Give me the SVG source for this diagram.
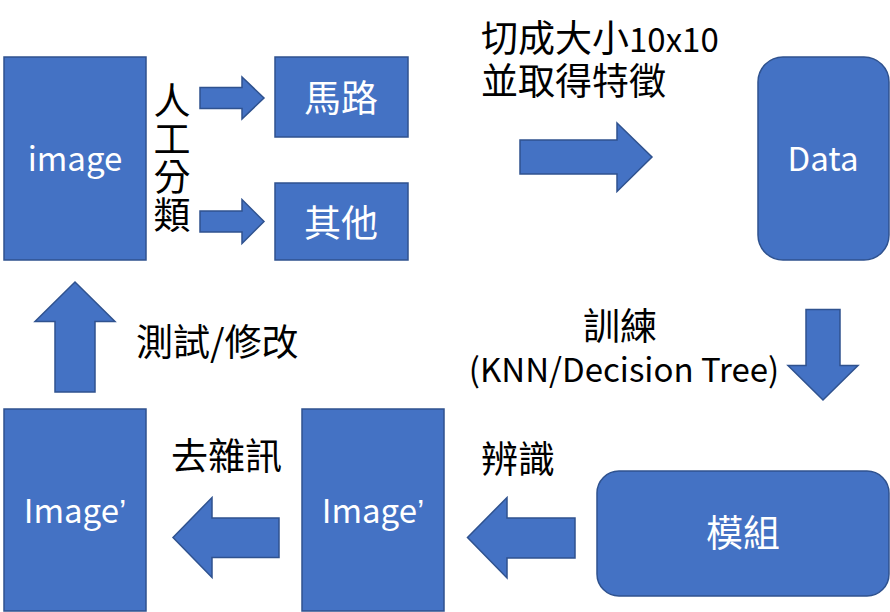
<svg xmlns="http://www.w3.org/2000/svg" width="890" height="612" viewBox="0 0 890 612">
<style>
.box{fill:#4472C4;stroke:#2F528F;stroke-width:1.5}
.arr{fill:#4472C4;stroke:#2F528F;stroke-width:1.5;stroke-linejoin:miter}
.wt{fill:#fff;font-family:"Noto Sans CJK TC","Noto Sans",sans-serif;font-size:37px;text-anchor:middle}
.lat{fill:#fff;font-family:"Noto Sans CJK TC","Noto Sans",sans-serif;font-size:33px;text-anchor:middle}
.bt{fill:#000;font-family:"Noto Sans CJK TC","Noto Sans",sans-serif;font-size:37px}
.q{font-family:"Liberation Sans",sans-serif}
.sm{font-size:33px}
</style>
<rect width="890" height="612" fill="#fff"/>
<g id="node-image"><rect class="box" x="4" y="57" width="142" height="203"/><text class="lat" x="75" y="171">image</text></g>
<g id="node-malu"><rect class="box" x="275" y="57" width="133" height="80"/><text class="wt" x="341" y="112">馬路</text></g>
<g id="node-other"><rect class="box" x="275" y="183" width="133" height="77"/><text class="wt" x="341" y="237">其他</text></g>
<g id="node-data"><rect class="box" x="758" y="57" width="131" height="203" rx="25"/><text class="lat" x="823" y="171">Data</text></g>
<g id="node-model"><rect class="box" x="597" y="471" width="292" height="125" rx="22"/><text class="wt" x="743" y="547">模組</text></g>
<g id="node-image2"><rect class="box" x="302" y="409" width="142" height="202"/><text class="lat" x="373" y="523">Image<tspan class="q">’</tspan></text></g>
<g id="node-image3"><rect class="box" x="4" y="409" width="142" height="202"/><text class="lat" x="75" y="523">Image<tspan class="q">’</tspan></text></g>
<g id="connectors">
<polygon class="arr" points="200,87.5 242,87.5 242,77 264,98 242,119 242,108.5 200,108.5"/>
<polygon class="arr" points="200,211 242,211 242,199.5 264,221.5 242,243.5 242,232 200,232"/>
<polygon class="arr" points="520,140 617,140 617,123 652,157 617,191.5 617,174 520,174"/>
<polygon class="arr" points="806,309.5 840,309.5 840,365.5 858,365.5 823,400 788,365.5 806,365.5"/>
<polygon class="arr" points="575,518 507,518 507,497.5 467.5,537.5 507,578 507,558 575,558"/>
<polygon class="arr" points="279,518 212,518 212,497.5 173,537.5 212,577.5 212,557.5 279,557.5"/>
<polygon class="arr" points="55,392 95,392 95,321.5 115,321.5 75,282 35,321.5 55,321.5"/>
</g>
<g id="labels">
<text class="bt" x="172" y="82" style="writing-mode:vertical-rl;letter-spacing:1px">人工分類</text>
<text class="bt"><tspan x="481" y="52">切成大小<tspan class="sm">10x10</tspan></tspan><tspan x="481" y="95">並取得特徵</tspan></text>
<text class="bt" text-anchor="middle"><tspan x="620" y="340">訓練</tspan><tspan class="sm" x="624" y="382">(KNN/Decision Tree)</tspan></text>
<text class="bt" x="481" y="473">辨識</text>
<text class="bt" x="171" y="470">去雜訊</text>
<text class="bt" x="136" y="356">測試/修改</text>
</g>
</svg>
